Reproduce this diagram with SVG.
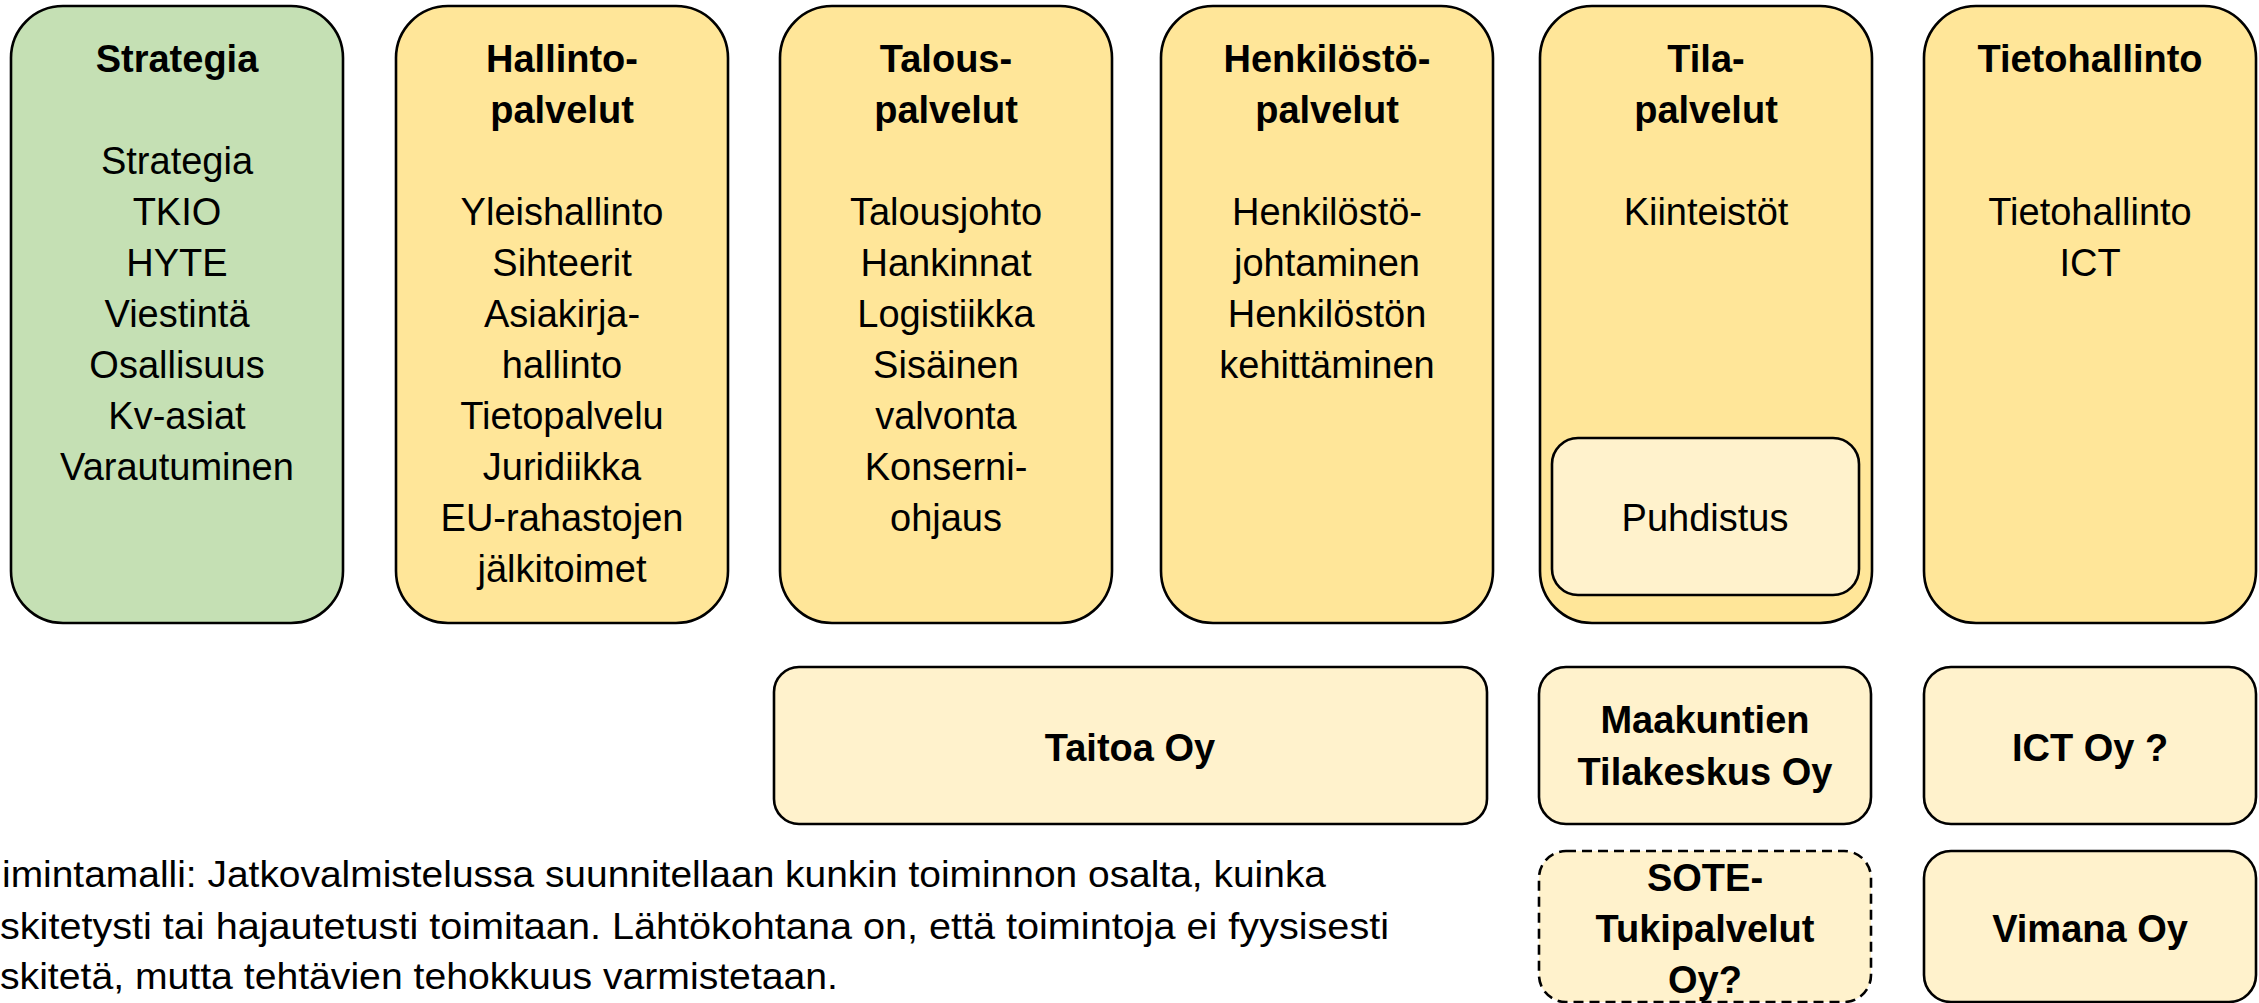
<svg xmlns="http://www.w3.org/2000/svg" width="2259" height="1003" viewBox="0 0 2259 1003">
<style>
  .box { stroke: #000; stroke-width: 2.6; }
  .green { fill: #C5E0B4; }
  .yellow { fill: #FFE699; }
  .light { fill: #FFF2CC; }
  .dashed { stroke-dasharray: 10 6; }
  text { font-family: "Liberation Sans", Arial, sans-serif; fill: #000; }
  .t { font-size: 38px; text-anchor: middle; }
  .b { font-size: 38px; font-weight: bold; text-anchor: middle; }
  .note { font-size: 36.5px; }
</style>
<rect width="2259" height="1003" fill="#fff"/>

<g id="strategia">
  <rect class="box green" x="11" y="6" width="332" height="617" rx="52"/>
  <text class="b" x="177" y="72">Strategia</text>
  <text class="t" x="177" y="174">Strategia</text>
  <text class="t" x="177" y="225">TKIO</text>
  <text class="t" x="177" y="276">HYTE</text>
  <text class="t" x="177" y="327">Viestintä</text>
  <text class="t" x="177" y="378">Osallisuus</text>
  <text class="t" x="177" y="429">Kv-asiat</text>
  <text class="t" x="177" y="480">Varautuminen</text>
</g>

<g id="hallintopalvelut">
  <rect class="box yellow" x="396" y="6" width="332" height="617" rx="52"/>
  <text class="b" x="562" y="72">Hallinto-</text>
  <text class="b" x="562" y="123">palvelut</text>
  <text class="t" x="562" y="225">Yleishallinto</text>
  <text class="t" x="562" y="276">Sihteerit</text>
  <text class="t" x="562" y="327">Asiakirja-</text>
  <text class="t" x="562" y="378">hallinto</text>
  <text class="t" x="562" y="429">Tietopalvelu</text>
  <text class="t" x="562" y="480">Juridiikka</text>
  <text class="t" x="562" y="531">EU-rahastojen</text>
  <text class="t" x="562" y="582">jälkitoimet</text>
</g>

<g id="talouspalvelut">
  <rect class="box yellow" x="780" y="6" width="332" height="617" rx="52"/>
  <text class="b" x="946" y="72">Talous-</text>
  <text class="b" x="946" y="123">palvelut</text>
  <text class="t" x="946" y="225">Talousjohto</text>
  <text class="t" x="946" y="276">Hankinnat</text>
  <text class="t" x="946" y="327">Logistiikka</text>
  <text class="t" x="946" y="378">Sisäinen</text>
  <text class="t" x="946" y="429">valvonta</text>
  <text class="t" x="946" y="480">Konserni-</text>
  <text class="t" x="946" y="531">ohjaus</text>
</g>

<g id="henkilostopalvelut">
  <rect class="box yellow" x="1161" y="6" width="332" height="617" rx="52"/>
  <text class="b" x="1327" y="72">Henkilöstö-</text>
  <text class="b" x="1327" y="123">palvelut</text>
  <text class="t" x="1327" y="225">Henkilöstö-</text>
  <text class="t" x="1327" y="276">johtaminen</text>
  <text class="t" x="1327" y="327">Henkilöstön</text>
  <text class="t" x="1327" y="378">kehittäminen</text>
</g>

<g id="tilapalvelut">
  <rect class="box yellow" x="1540" y="6" width="332" height="617" rx="52"/>
  <text class="b" x="1706" y="72">Tila-</text>
  <text class="b" x="1706" y="123">palvelut</text>
  <text class="t" x="1706" y="225">Kiinteistöt</text>
</g>

<g id="puhdistus">
  <rect class="box light" x="1552" y="438" width="307" height="157" rx="26"/>
  <text class="t" x="1705" y="531">Puhdistus</text>
</g>

<g id="tietohallinto">
  <rect class="box yellow" x="1924" y="6" width="332" height="617" rx="52"/>
  <text class="b" x="2090" y="72">Tietohallinto</text>
  <text class="t" x="2090" y="225">Tietohallinto</text>
  <text class="t" x="2090" y="276">ICT</text>
</g>

<g id="taitoa">
  <rect class="box light" x="774" y="667" width="713" height="157" rx="25"/>
  <text class="b" x="1130" y="761">Taitoa Oy</text>
</g>

<g id="maakuntien-tilakeskus">
  <rect class="box light" x="1539" y="667" width="332" height="157" rx="27"/>
  <text class="b" x="1705" y="733">Maakuntien</text>
  <text class="b" x="1705" y="785">Tilakeskus Oy</text>
</g>

<g id="ict-oy">
  <rect class="box light" x="1924" y="667" width="332" height="157" rx="27"/>
  <text class="b" x="2090" y="761">ICT Oy ?</text>
</g>

<g id="sote-tukipalvelut">
  <rect class="box light dashed" x="1539" y="851" width="332" height="151" rx="27"/>
  <text class="b" x="1705" y="891">SOTE-</text>
  <text class="b" x="1705" y="942">Tukipalvelut</text>
  <text class="b" x="1705" y="993">Oy?</text>
</g>

<g id="vimana">
  <rect class="box light" x="1924" y="851" width="332" height="151" rx="27"/>
  <text class="b" x="2090" y="942">Vimana Oy</text>
</g>

<g id="connectors"></g>

<g id="note">
  <text class="note" x="2" y="887" textLength="1324" lengthAdjust="spacingAndGlyphs">imintamalli: Jatkovalmistelussa suunnitellaan kunkin toiminnon osalta, kuinka</text>
  <text class="note" x="0" y="939" textLength="1389" lengthAdjust="spacingAndGlyphs">skitetysti tai hajautetusti toimitaan. Lähtökohtana on, että toimintoja ei fyysisesti</text>
  <text class="note" x="0" y="989" textLength="838" lengthAdjust="spacingAndGlyphs">skitetä, mutta tehtävien tehokkuus varmistetaan.</text>
</g>
</svg>
